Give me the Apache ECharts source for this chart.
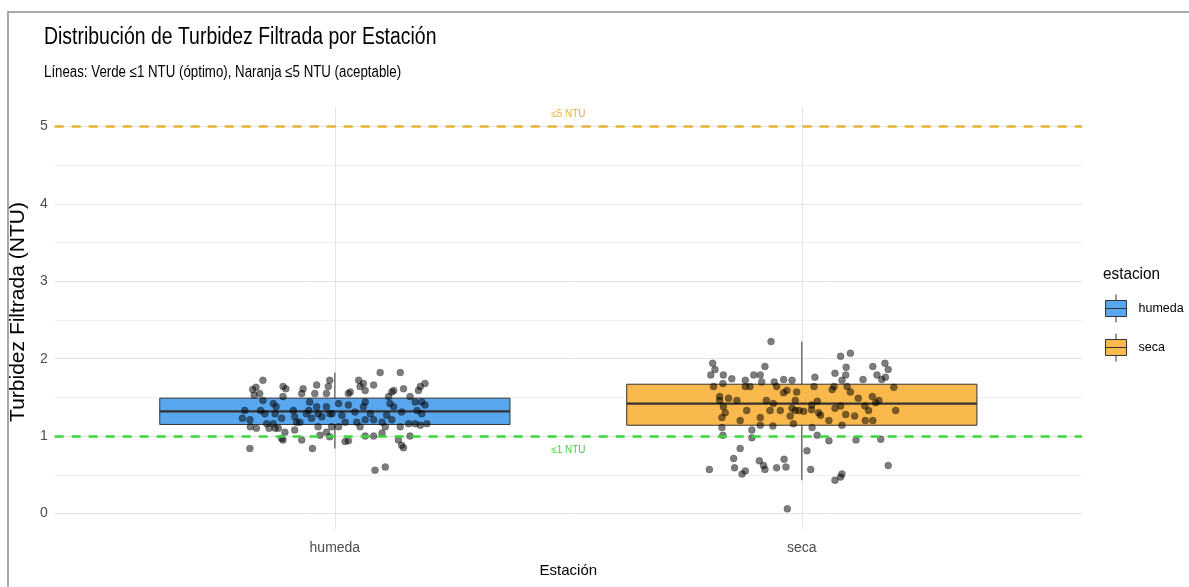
<!DOCTYPE html>
<html>
<head>
<meta charset="utf-8">
<title>Distribución de Turbidez Filtrada por Estación</title>
<script src="https://cdn.jsdelivr.net/npm/echarts@6/dist/echarts.min.js"></script>
<style>
  html, body { margin: 0; padding: 0; background: #fff; }
  #chart { width: 1189px; height: 587px; }
</style>
</head>
<body>
<div id="chart"></div>
<script>
// ---- datos ----
const estaciones = ['humeda', 'seca'];

// resumen de las cajas (bigote inferior, Q1, mediana, Q3, bigote superior)
const bigoteInf = [0.84, 0.43];
const cuartil1 = [1.15, 1.14];
const mediana = [1.32, 1.42];
const cuartil3 = [1.49, 1.67];
const bigoteSup = [1.82, 2.22];

// puntos con jitter: desplazamiento horizontal (en unidades de categoría) y valor NTU
const humedaJitter = [-0.154, -0.176, -0.169, -0.161, -0.173, -0.154, -0.193, -0.198, -0.182, -0.181,
  -0.168, -0.159, -0.150, -0.146, -0.141, -0.132, -0.126, -0.128, -0.132, -0.128,
  -0.121, -0.111, -0.105, -0.111, -0.114, -0.107, -0.114, -0.089, -0.086, -0.082,
  -0.086, -0.075, -0.071, -0.068, -0.071, -0.054, -0.056, -0.061, -0.050, -0.039,
  -0.043, -0.039, -0.036, -0.028, -0.036, -0.032, -0.018, -0.014, -0.011, -0.018,
  -0.011, -0.007, -0.018, -0.011, -0.182, -0.048, -0.111,
  0.097, 0.140, 0.051, 0.061, 0.054, 0.083, 0.029, 0.033, 0.065, 0.122,
  0.126, 0.147, 0.183, 0.193, 0.179, 0.161, 0.115, 0.008, 0.029, 0.065,
  0.061, 0.118, 0.126, 0.172, 0.186, 0.193, -0.006, 0.015, 0.043, 0.076,
  0.111, 0.143, 0.176, 0.186, 0.022, 0.047, 0.065, 0.083, 0.101, 0.122,
  0.158, 0.172, 0.197, 0.008, 0.054, 0.108, 0.140, 0.183, 0.101, 0.065,
  0.083, 0.161, 0.136, 0.022, 0.029, 0.143, 0.147, 0.086, 0.108];
const humedaValores = [1.72, 1.60, 1.63, 1.55, 1.53, 1.46, 1.33, 1.23, 1.21, 1.12,
  1.10, 1.33, 1.29, 1.16, 1.10, 1.42, 1.38, 1.29, 1.16, 1.10,
  1.10, 1.64, 1.61, 1.51, 1.23, 1.05, 0.97, 1.33, 1.25, 1.18,
  1.08, 1.18, 1.55, 1.61, 0.95, 1.44, 1.33, 1.29, 1.23, 1.66,
  1.55, 1.38, 1.29, 1.25, 1.12, 1.01, 1.55, 1.64, 1.72, 1.38,
  1.29, 1.12, 1.05, 0.99, 0.84, 0.84, 0.95,
  1.82, 1.82, 1.72, 1.68, 1.64, 1.66, 1.55, 1.57, 1.59, 1.57,
  1.59, 1.61, 1.64, 1.68, 1.59, 1.51, 1.51, 1.42, 1.40, 1.44,
  1.38, 1.42, 1.38, 1.44, 1.44, 1.40, 1.29, 1.27, 1.31, 1.29,
  1.27, 1.31, 1.33, 1.29, 1.18, 1.18, 1.21, 1.21, 1.18, 1.21,
  1.16, 1.16, 1.16, 1.12, 1.12, 1.12, 1.12, 1.14, 1.04, 1.00,
  1.00, 1.00, 0.95, 0.93, 0.94, 0.88, 0.85, 0.56, 0.60];

const secaJitter = [-0.066, -0.191, -0.186, -0.195, -0.168, -0.150, -0.079, -0.103, -0.089, -0.086,
  -0.121, -0.059, -0.039, -0.021, -0.189, -0.169, -0.121, -0.111, -0.054, -0.032,
  -0.039, -0.011, -0.176, -0.176, -0.157, -0.139, -0.076, -0.014, -0.061, -0.168,
  -0.164, -0.118, -0.068, -0.046, -0.021, -0.014, -0.171, -0.089, -0.025, -0.132,
  -0.089, -0.062, -0.018, -0.171, -0.107, -0.169, -0.107, -0.132, -0.146, -0.198,
  -0.144, -0.121, -0.128, -0.091, -0.082, -0.079, -0.054, -0.038, -0.034, -0.031,
  0.083, 0.104, 0.095, 0.094, 0.071, 0.086, 0.028, 0.152, 0.178, 0.185,
  0.161, 0.171, 0.179, 0.131, 0.026, 0.065, 0.069, 0.097, 0.104, 0.197,
  0.121, 0.151, 0.165, 0.158, 0.033, 0.021, 0.021, 0.004, -0.006, 0.071,
  0.083, 0.036, 0.040, 0.094, 0.113, 0.143, 0.135, 0.201, 0.058, 0.086,
  0.136, 0.152, 0.022, 0.033, 0.058, 0.116, 0.169, 0.011, 0.019, 0.086,
  0.083, 0.071, 0.185];
const secaValores = [2.22, 1.94, 1.86, 1.79, 1.79, 1.74, 1.90, 1.79, 1.79, 1.70,
  1.72, 1.70, 1.73, 1.72, 1.64, 1.68, 1.64, 1.64, 1.64, 1.59,
  1.56, 1.57, 1.51, 1.46, 1.49, 1.46, 1.46, 1.46, 1.42, 1.38,
  1.30, 1.33, 1.33, 1.33, 1.36, 1.33, 1.24, 1.24, 1.26, 1.20,
  1.14, 1.13, 1.16, 1.11, 1.08, 1.01, 0.98, 0.84, 0.71, 0.57,
  0.59, 0.55, 0.51, 0.68, 0.62, 0.57, 0.59, 0.70, 0.60, 0.06,
  2.03, 2.07, 1.89, 1.79, 1.81, 1.72, 1.76, 1.90, 1.94, 1.86,
  1.79, 1.73, 1.76, 1.73, 1.64, 1.60, 1.64, 1.64, 1.57, 1.63,
  1.49, 1.51, 1.46, 1.43, 1.45, 1.40, 1.34, 1.32, 1.33, 1.36,
  1.39, 1.30, 1.27, 1.28, 1.26, 1.33, 1.39, 1.33, 1.20, 1.14,
  1.20, 1.20, 1.11, 1.01, 0.94, 0.95, 0.96, 0.81, 0.57, 0.51,
  0.47, 0.43, 0.62];

// umbrales de referencia (NTU)
const umbralOptimo = 1;
const umbralAceptable = 5;

// ---- estilos ----
const SANS = "'Liberation Sans', Arial, sans-serif";
const coloresCaja = ['#58A6EE', '#F9B94C'];
const COLOR_VERDE = '#3BD63B';
const COLOR_NARANJA = '#E6B234';
const GRID_MAYOR = '#E3E3E3';
const GRID_MENOR = '#EFEFEF';
const NADA = 'rgba(0,0,0,0)';
const ANCHO_CAJA = 0.75;
// clave de la leyenda: bigote, caja y mediana (como en ggplot)
const ICONO_CLAVE = 'path://M10.5,0L10.5,6M0,6L21,6L21,22L0,22ZM0,14L21,14M10.5,22L10.5,28';

const esEntero = v => Math.abs(v - Math.round(v)) < 1e-6;

/** Dibuja una caja estilo ggplot: bigote sin remates, caja y mediana gruesa */
function dibujarCaja(params, api) {
  const x = api.value(0);
  const mitad = api.size([ANCHO_CAJA, 0])[0] / 2;
  const [cx, yInf] = api.coord([x, api.value(1)]);
  const yQ1 = api.coord([x, api.value(2)])[1];
  const yMed = api.coord([x, api.value(3)])[1];
  const yQ3 = api.coord([x, api.value(4)])[1];
  const ySup = api.coord([x, api.value(5)])[1];
  const trazo = '#333333';
  return {
    type: 'group',
    children: [
      { type: 'line', shape: { x1: cx, y1: ySup, x2: cx, y2: yInf }, style: { stroke: trazo, lineWidth: 1 } },
      { type: 'rect', shape: { x: cx - mitad, y: yQ3, width: mitad * 2, height: yQ1 - yQ3 },
        style: { fill: api.visual('color'), stroke: trazo, lineWidth: 1 } },
      { type: 'line', shape: { x1: cx - mitad, y1: yMed, x2: cx + mitad, y2: yMed }, style: { stroke: trazo, lineWidth: 2.2 } }
    ]
  };
}

const puntos = [
  humedaJitter.map((j, i) => [0 + j, humedaValores[i]]),
  secaJitter.map((j, i) => [1 + j, secaValores[i]])
];

const chart = echarts.init(document.getElementById('chart'));

const series = [];
estaciones.forEach((nombre, i) => {
  series.push({
    name: nombre,
    type: 'custom',
    renderItem: dibujarCaja,
    itemStyle: { color: coloresCaja[i] },
    encode: { x: 0, y: [1, 2, 3, 4, 5] },
    data: [[i, bigoteInf[i], cuartil1[i], mediana[i], cuartil3[i], bigoteSup[i]]],
    silent: true,
    z: 2
  });
});

// líneas de referencia
series.push({
  name: 'umbrales',
  type: 'scatter',
  data: [],
  z: 3,
  markLine: {
    silent: true,
    symbol: 'none',
    animation: false,
    data: [
      {
        yAxis: umbralAceptable,
        lineStyle: { color: COLOR_NARANJA, width: 2.5, type: [9, 8] },
        label: { formatter: '≤5 NTU', position: 'insideMiddleTop', distance: 7,
          color: COLOR_NARANJA, fontSize: 10, fontFamily: SANS }
      },
      {
        yAxis: umbralOptimo,
        lineStyle: { color: COLOR_VERDE, width: 2.5, type: [9, 8] },
        label: { formatter: '≤1 NTU', position: 'insideMiddleBottom', distance: 9,
          color: COLOR_VERDE, fontSize: 10, fontFamily: SANS }
      }
    ]
  }
});

estaciones.forEach((nombre, i) => {
  series.push({
    name: 'puntos ' + nombre,
    type: 'scatter',
    data: puntos[i],
    symbolSize: 7,
    itemStyle: { color: 'rgba(0,0,0,0.64)', borderColor: 'rgba(0,0,0,0.3)', borderWidth: 0.8 },
    silent: true,
    z: 4
  });
});

chart.setOption({
  animation: false,
  backgroundColor: '#ffffff',
  legend: {
    orient: 'vertical',
    left: 1100, top: 289,
    itemWidth: 21, itemHeight: 28, itemGap: 10,
    data: estaciones.map(name => ({ name, icon: ICONO_CLAVE })),
    itemStyle: { borderColor: '#333333', borderWidth: 1 },
    textStyle: { fontFamily: SANS, fontSize: 12.5, color: '#000', padding: [0, 0, 0, 7] },
    selectedMode: false
  },
  grid: { left: 53, right: 107, top: 107, bottom: 58, containLabel: false },
  xAxis: {
    type: 'value',
    min: -0.6, max: 1.6, interval: 0.2,
    name: 'Estación',
    nameLocation: 'middle',
    nameGap: 34,
    nameTextStyle: { fontFamily: SANS, fontSize: 15, color: '#000' },
    axisLine: { show: false },
    axisTick: { show: false },
    axisLabel: {
      margin: 12,
      fontFamily: SANS, fontSize: 14, color: '#4D4D4D',
      formatter: v => (esEntero(v) ? (estaciones[Math.round(v)] || '') : '')
    },
    splitLine: {
      show: true,
      lineStyle: { color: [NADA, NADA, NADA, GRID_MAYOR, NADA], width: 1 }
    }
  },
  yAxis: {
    type: 'value',
    min: -0.2, max: 5.25, interval: 0.1,
    name: 'Turbidez Filtrada (NTU)',
    nameLocation: 'middle',
    nameGap: 14,
    nameTextStyle: { fontFamily: SANS, fontSize: 21, color: '#000', padding: [0, 0, 0, 12] },
    axisLine: { show: false },
    axisTick: { show: false },
    axisLabel: {
      margin: 7,
      fontFamily: SANS, fontSize: 14, color: '#4D4D4D',
      formatter: v => (esEntero(v) ? String(Math.round(v)) : '')
    },
    splitLine: {
      show: true,
      lineStyle: {
        color: [NADA, NADA, GRID_MAYOR, NADA, NADA, NADA, NADA, GRID_MENOR, NADA, NADA],
        width: 1
      }
    }
  },
  graphic: [
    {
      type: 'text', silent: true,
      x: 44, y: 26, scaleX: 0.845,
      style: {
        text: 'Distribución de Turbidez Filtrada por Estación',
        fontFamily: SANS, fontSize: 23, fill: '#000'
      }
    },
    {
      type: 'text', silent: true,
      x: 44, y: 65, scaleX: 0.83,
      style: {
        text: 'Líneas: Verde ≤1 NTU (óptimo), Naranja ≤5 NTU (aceptable)',
        fontFamily: SANS, fontSize: 16, fill: '#000'
      }
    },
    {
      type: 'text', silent: true,
      x: 1103, y: 266, scaleX: 0.9,
      style: { text: 'estacion', fontFamily: SANS, fontSize: 17, fill: '#000' }
    },
    {
      // marco gris de la captura (borde derecho e inferior quedan fuera)
      type: 'rect', silent: true, z: 100,
      shape: { x: 8, y: 12, width: 1200, height: 600 },
      style: { fill: null, stroke: '#A8A8A8', lineWidth: 2 }
    }
  ],
  series
});

window.addEventListener('resize', () => chart.resize());
</script>
</body>
</html>
